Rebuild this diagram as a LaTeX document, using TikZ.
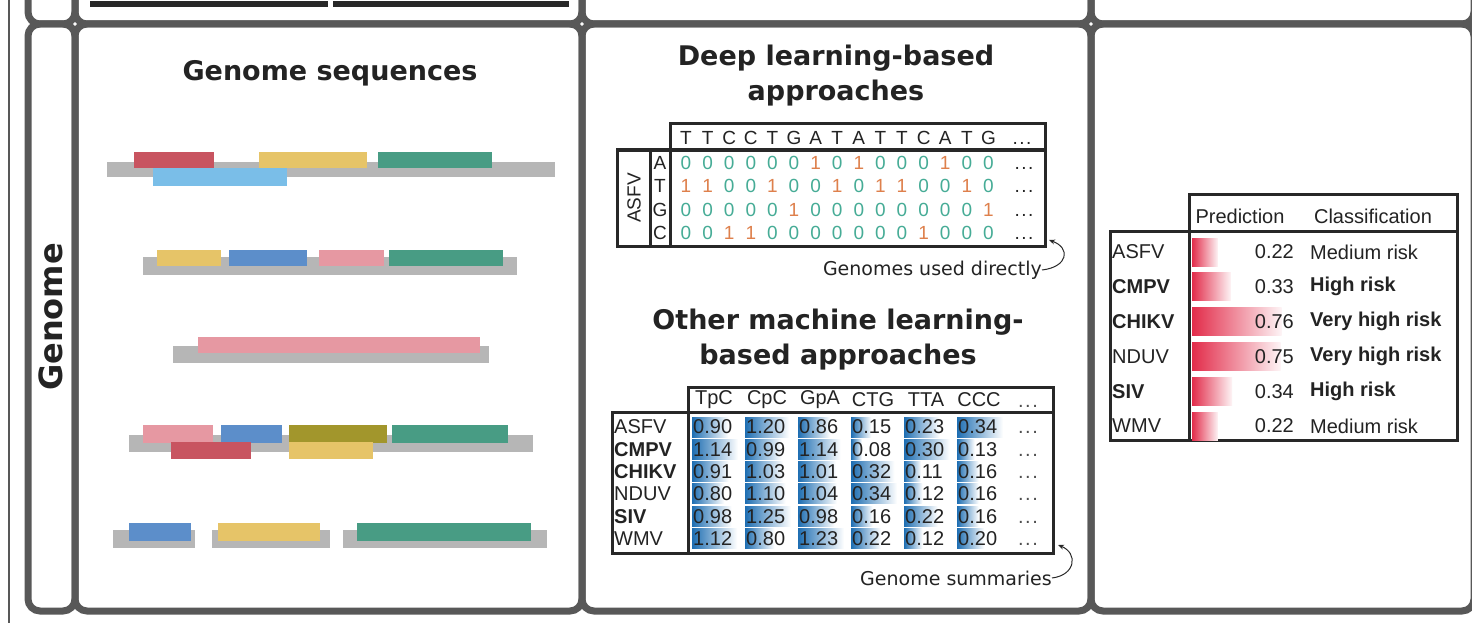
\documentclass[tikz,border=0pt]{standalone}
\usepackage{fontspec}
\setmainfont{DejaVu Sans}
\newfontfamily\tabf{Liberation Sans}
\usetikzlibrary{arrows.meta}
\definecolor{framec}{RGB}{88,88,88}
\definecolor{boxc}{RGB}{40,40,40}
\definecolor{txt}{RGB}{35,35,35}
\definecolor{barg}{RGB}{182,182,182}
\definecolor{gred}{RGB}{200,84,96}
\definecolor{gyel}{RGB}{230,196,104}
\definecolor{ggrn}{RGB}{72,156,132}
\definecolor{glbl}{RGB}{122,190,232}
\definecolor{gblu}{RGB}{92,142,202}
\definecolor{gpnk}{RGB}{230,152,162}
\definecolor{golv}{RGB}{162,150,44}
\definecolor{c0}{RGB}{70,172,150}
\definecolor{c1}{RGB}{222,128,76}
\definecolor{hblue}{RGB}{30,110,178}
\definecolor{pred}{RGB}{226,44,74}
\newcommand{\dotz}{\vphantom{0}.\kern1.5pt.\kern1.5pt.}
\tikzset{
  cell/.style={draw=framec, line width=7pt, rounded corners=12pt},
  bx/.style={draw=boxc, line width=3pt},
  mtx/.style={font=\tabf\fontsize{19}{19}\selectfont, inner sep=0pt, text=txt},
  tb/.style={font=\tabf\fontsize{20}{20}\selectfont, inner sep=0pt, text=txt},
  ttl/.style={font=\bfseries\fontsize{27}{35}\selectfont, text=txt, align=center, inner sep=0pt},
  ann/.style={font=\fontsize{19}{19}\selectfont, text=txt, inner sep=0pt},
  arr/.style={draw=boxc, line width=1pt, -{Stealth[length=6pt,width=5pt]}}
}
\begin{document}
\begin{tikzpicture}[x=1pt,y=-1pt]
\useasboundingbox (0,0) rectangle (1472,623);
\clip (0,0) rectangle (1472,623);
\fill[white] (0,0) rectangle (1472,623);
% thin outer line
\draw[framec, line width=2pt] (9,0) -- (9,623);
% upper row (cut off)
\foreach \a/\b in {28/75, 75/582, 582/1091, 1091/1474}
  \draw[cell] (\a,-80) rectangle (\b,24);
\draw[boxc, line width=6pt] (90,4) -- (328,4);
\draw[boxc, line width=6pt] (333,4) -- (569,4);
% lower row
\foreach \a/\b in {28/75, 75/582, 582/1091, 1091/1474}
  \draw[cell] (\a,24) rectangle (\b,611);
\node[font=\bfseries\fontsize{32}{32}\selectfont, text=txt, rotate=90, inner sep=0pt] (rowlab) at (51,317) {Genome};

% ---------- panel 1 ----------
\node[ttl] (t1) at (330,73) {Genome sequences};
\foreach \c/\a/\b/\cc/\d in {
  barg/107/162/555/177, gred/134/152/214/168, gyel/259/152/367/168, ggrn/378/152/492/168, glbl/153/168/287/186,
  barg/143/257/517/275, gyel/157/250/221/266, gblu/229/250/307/266, gpnk/319/250/384/266, ggrn/389/250/503/266,
  barg/173/346/489/363, gpnk/198/337/480/353,
  barg/129/435/533/452, gpnk/143/425/213/443, gblu/221/425/282/443, golv/289/425/387/443, ggrn/392/425/508/443, gred/171/442/251/459, gyel/289/442/373/459,
  barg/113/530/195/548, gblu/129/523/191/541, barg/212/530/330/548, gyel/218/523/320/541, barg/343/530/547/548, ggrn/357/523/531/541}
  \fill[\c] (\a,\b) rectangle (\cc,\d);

% ---------- panel 2 ----------
\node[ttl] (t2) at (836,76) {Deep learning-based\\approaches};
\draw[bx] (670,124) rectangle (1045,150);
\draw[bx] (617,150) rectangle (1045,246);
\draw[bx] (650,150) -- (650,246);
\draw[bx] (670,150) -- (670,246);
\node[mtx, rotate=90] (asfv) at (634,198) {ASFV};
\foreach \l [count=\c from 0] in {T,T,C,C,T,G,A,T,A,T,T,C,A,T,G}
  \node[mtx] (h-\c) at (686+21.6*\c,138) {\l};
\node[mtx] (hdots) at (1022,138) {\dotz};
\foreach \r/\lab/\vals in {
  0/A/{0,0,0,0,0,0,1,0,1,0,0,0,1,0,0},
  1/T/{1,1,0,0,1,0,0,1,0,1,1,0,0,1,0},
  2/G/{0,0,0,0,0,1,0,0,0,0,0,0,0,0,1},
  3/C/{0,0,1,1,0,0,0,0,0,0,0,1,0,0,0}}{
  \node[mtx] (l-\r) at (660,163+23.3*\r) {\lab};
  \foreach \v [count=\c from 0] in \vals
    \node[mtx, text=c\v] (m-\r-\c) at (686+21.6*\c,163+23.3*\r) {\v};
  \node[mtx] (d-\r) at (1024,163+23.3*\r) {\dotz};
}
\node[ann, anchor=east] (ann1) at (1042,270) {Genomes used directly};
\coordinate (tip1) at (1049,240);
\draw[arr] (ann1.east) .. controls +(26,-3) and +(22,8) .. (tip1);

\node[ttl] (t3) at (838,340) {Other machine learning-\\based approaches};
\draw[bx] (688,387) rectangle (1053,412);
\draw[bx] (612,412) rectangle (1053,553);
\draw[bx] (688,412) -- (688,553);
\foreach \h [count=\c from 0] in {TpC,CpC,GpA,CTG,TTA,CCC}
  \node[tb] (ch-\c) at (715+53*\c-1,400) {\h};
\node[tb, text=txt!80] (chd) at (1028,401) {\dotz};
\foreach \i/\nm/\f/\vals in {
  0/ASFV/\mdseries/{0.90,1.20,0.86,0.15,0.23,0.34},
  1/CMPV/\bfseries/{1.14,0.99,1.14,0.08,0.30,0.13},
  2/CHIKV/\bfseries/{0.91,1.03,1.01,0.32,0.11,0.16},
  3/NDUV/\mdseries/{0.80,1.10,1.04,0.34,0.12,0.16},
  4/SIV/\bfseries/{0.98,1.25,0.98,0.16,0.22,0.16},
  5/WMV/\mdseries/{1.12,0.80,1.23,0.22,0.12,0.20}}{
  \pgfmathsetmacro\yy{427+22.3*\i}
  \node[tb, anchor=west] (r-\i) at (614,\yy) {\f\nm};
  \foreach \v [count=\c from 0] in \vals {
    \pgfmathsetmacro\xl{692+53*\c}
    \pgfmathsetmacro\mx{{1.14,1.25,1.23,0.34,0.30,0.34}[\c]}
    \pgfmathsetmacro\L{46*\v/\mx}
    \shade[left color=hblue, right color=white] (\xl,\yy-10) rectangle (\xl+\L,\yy+10);
    \node[tb, anchor=west] (v-\i-\c) at (\xl+1,\yy) {\v};
  }
  \node[tb, text=txt!80] (vd-\i) at (1028,\yy) {\dotz};
}
\node[ann, anchor=east] (ann2) at (1052,578) {Genome summaries};
\coordinate (tip2) at (1058,545);
\draw[arr] (ann2.east) .. controls +(24,-3) and +(20,8) .. (tip2);

% ---------- panel 3 ----------
\draw[bx] (1189,194) rectangle (1457,231);
\draw[bx] (1110,231) rectangle (1457,440);
\draw[bx] (1189,231) -- (1189,440);
\node[tb] (ph) at (1240,216) {Prediction};
\node[tb] (chh) at (1373,216) {Classification};
\foreach \i/\nm/\f/\v/\cl/\g in {
  0/ASFV/\mdseries/0.22/Medium risk/\mdseries,
  1/CMPV/\bfseries/0.33/High risk/\bfseries,
  2/CHIKV/\bfseries/0.76/Very high risk/\bfseries,
  3/NDUV/\mdseries/0.75/Very high risk/\bfseries,
  4/SIV/\bfseries/0.34/High risk/\bfseries,
  5/WMV/\mdseries/0.22/Medium risk/\mdseries}{
  \pgfmathsetmacro\yy{252+34.8*\i}
  \shade[left color=pred, right color=pred!5] (1192,\yy-14) rectangle (1192+118*\v,\yy+14);
  \node[tb, anchor=west] (pr-\i) at (1112,\yy) {\f\nm};
  \node[tb, anchor=east] (pv-\i) at (1294,\yy) {\v};
  \node[tb, anchor=west] (pc-\i) at (1310,\yy) {\g\cl};
}
\end{tikzpicture}
\end{document}
